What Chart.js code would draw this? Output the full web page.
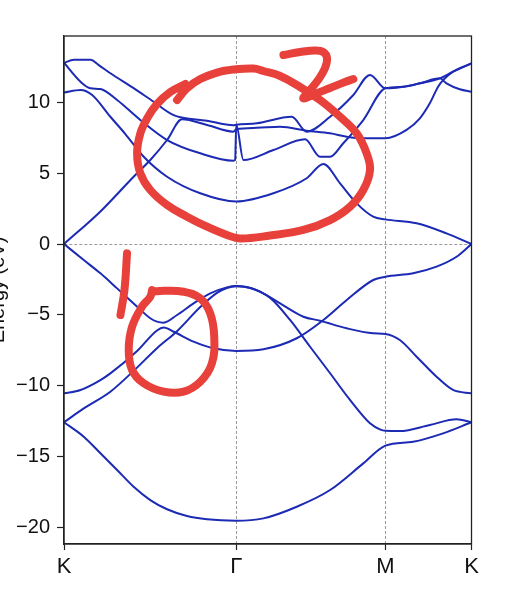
<!DOCTYPE html>
<html><head><meta charset="utf-8">
<script src="https://cdn.jsdelivr.net/npm/chart.js@4"></script>
<style>html,body{margin:0;padding:0;background:#fff;overflow:hidden}</style>
</head><body>
<canvas id="c" width="512" height="596"></canvas>
<script>
// k-path (high-symmetry points) and tick values
const kPathLabels = ['K', 'Γ', 'M', 'K'];
const kPathPos = [0, 1.3333, 2.4880, 3.1547];
const energyTicks = [-20, -15, -10, -5, 0, 5, 10];
const energyRange = [-21.17, 14.68];

// bands: [k, E (eV)]
const bandL1 = [[0,-12.58],[0.153,-13.6],[0.282,-14.77],[0.411,-15.95],[0.539,-17.13],[0.668,-18.07],[0.798,-18.72],[0.952,-19.2],[1.107,-19.43],[1.3333,-19.53],[1.544,-19.36],[1.802,-18.54],[2.06,-17.36],[2.317,-15.48],[2.488,-14.23],[2.703,-13.95],[2.935,-13.36],[3.1547,-12.58]];
const bandL2 = [[0,-12.58],[0.153,-11.6],[0.359,-10.42],[0.539,-8.95],[0.72,-7.35],[0.875,-6.15],[1.055,-4.45],[1.184,-3.45],[1.261,-3.1],[1.3333,-2.98],[1.441,-3.1],[1.596,-3.8],[1.75,-5.36],[1.905,-7.25],[2.06,-9.12],[2.214,-11.0],[2.369,-12.65],[2.45,-13.1],[2.488,-13.18],[2.6,-13.2],[2.832,-12.77],[3.039,-12.37],[3.1547,-12.58]];
const bandL3 = [[0,0],[0.153,-1.13],[0.282,-2.07],[0.411,-3.13],[0.539,-4.19],[0.668,-5.24],[0.72,-5.48],[0.771,-5.55],[0.875,-5.01],[1.003,-4.19],[1.132,-3.48],[1.261,-3.06],[1.3333,-2.96],[1.493,-3.25],[1.673,-4.19],[1.853,-5.13],[1.982,-5.41],[2.189,-5.95],[2.394,-6.3],[2.488,-6.35],[2.6,-6.77],[2.73,-7.95],[2.884,-9.36],[3.012,-10.3],[3.1547,-10.54]];
const bandL4 = [[0,-10.54],[0.128,-10.3],[0.282,-9.6],[0.359,-9.13],[0.566,-7.55],[0.72,-6.1],[0.771,-5.9],[0.849,-6.19],[1.003,-6.89],[1.158,-7.36],[1.3333,-7.55],[1.544,-7.43],[1.802,-6.65],[2.008,-5.36],[2.189,-3.95],[2.394,-2.54],[2.488,-2.31],[2.703,-2.07],[2.884,-1.6],[3.039,-0.9],[3.1547,0]];
const bandU1 = [[0,12.79],[0.076,13.0],[0.205,13.0],[0.269,12.63],[0.359,12.05],[0.539,11.0],[0.694,10.04],[0.849,9.1],[1.107,8.7],[1.312,8.38],[1.3333,8.42],[1.493,8.52],[1.763,8.98],[1.879,7.93],[2.06,8.98],[2.24,10.52],[2.369,11.93],[2.488,10.99],[2.627,11.1],[2.755,11.34],[2.91,11.69],[3.012,12.16],[3.1547,12.75]];
const bandU2 = [[0,12.79],[0.128,11.45],[0.205,10.99],[0.282,10.94],[0.411,10.16],[0.591,8.75],[0.798,7.34],[1.055,6.4],[1.312,5.88],[1.325,5.93],[1.3333,8.42],[1.389,5.93],[1.621,6.63],[1.866,7.39],[1.982,6.16],[2.06,6.16],[2.162,7.11],[2.317,8.75],[2.488,10.99],[2.627,11.1],[2.755,11.34],[2.91,11.69],[2.961,11.34],[3.064,10.92],[3.1547,10.75]];
const bandU3 = [[0,0],[0.282,2.3],[0.539,4.75],[0.668,5.93],[0.798,7.34],[0.913,8.8],[1.107,8.4],[1.312,7.93],[1.3333,8.1],[1.493,8.2],[1.673,8.28],[1.879,8.0],[2.06,7.81],[2.189,7.57],[2.317,7.46],[2.488,7.46],[2.652,8.05],[2.755,8.87],[2.832,9.93],[2.896,11.1],[2.935,11.57],[3.012,12.16],[3.1547,12.75]];
const bandU4 = [[0,10.69],[0.128,10.87],[0.218,10.52],[0.359,8.98],[0.475,7.76],[0.617,6.16],[0.798,4.75],[1.055,3.58],[1.3333,3.0],[1.621,3.58],[1.879,4.64],[2.008,5.65],[2.137,4.28],[2.266,2.87],[2.394,1.93],[2.488,1.74],[2.73,1.46],[2.961,0.75],[3.1547,0]];

// hand-drawn red annotations, traced in the same (k, E) coordinates
const markOneStroke = [[0.488,-0.66],[0.468,-3.25],[0.437,-5.01]];
const markOneCircle = [[0.682,-3.25],[0.668,-3.72],[0.604,-4.42],[0.527,-5.84],[0.501,-7.48],[0.527,-8.89],[0.617,-9.83],[0.771,-10.42],[0.926,-10.42],[1.055,-9.72],[1.145,-8.42],[1.163,-6.54],[1.132,-4.89],[1.055,-3.83],[0.926,-3.37],[0.771,-3.3],[0.682,-3.37]];
const markTwoStroke = [[1.699,13.34],[1.828,13.55],[1.944,13.66],[2.008,13.55],[2.036,13.13],[2.021,12.42],[1.967,11.57],[1.905,10.87],[1.853,10.28],[1.944,10.59],[2.06,11.01],[2.175,11.43],[2.24,11.64]];
const markTwoCircle = [[0.875,10.16],[0.952,10.99],[1.055,11.64],[1.184,12.1],[1.312,12.31],[1.467,12.39],[1.544,12.21],[1.673,11.86],[1.802,11.22],[1.982,10.16],[2.137,8.98],[2.266,7.81],[2.343,6.4],[2.369,5.22],[2.317,3.81],[2.214,2.63],[2.06,1.69],[1.853,0.99],[1.596,0.6],[1.364,0.39],[1.261,0.64],[1.107,1.22],[0.952,1.93],[0.798,2.75],[0.668,3.81],[0.591,4.99],[0.566,6.4],[0.591,7.81],[0.645,8.89],[0.72,9.88],[0.823,10.73],[0.939,11.29]];

const toXY = arr => arr.map(([x, y]) => ({x, y}));
const bands = [bandL1, bandL2, bandL3, bandL4, bandU1, bandU2, bandU3, bandU4];
const marks = [markOneStroke, markOneCircle, markTwoStroke, markTwoCircle];

const FONT = "'Liberation Sans', Arial, sans-serif";
const BLUE = '#1c2ab4';
const RED = '#e8413c';

const datasets = [];
marks.forEach(m => datasets.push({
  data: toXY(m), borderColor: RED, borderWidth: 8, pointRadius: 0,
  tension: 0.4, borderCapStyle: 'round', borderJoinStyle: 'round', fill: false, clip: false
}));
bands.forEach(b => datasets.push({
  data: toXY(b), borderColor: BLUE, borderWidth: 2, pointRadius: 0,
  cubicInterpolationMode: 'monotone', fill: false
}));

const framePlugin = {
  id: 'frame',
  afterDatasetsDraw(chart) {
    const {ctx, chartArea: a} = chart;
    ctx.save();
    ctx.strokeStyle = '#222';
    ctx.lineWidth = 1.3;
    ctx.strokeRect(a.left, a.top, a.right - a.left, a.bottom - a.top);
    ctx.restore();
  }
};

new Chart(document.getElementById('c'), {
  type: 'line',
  data: { datasets },
  options: {
    responsive: false,
    devicePixelRatio: 1,
    animation: false,
    events: [],
    layout: { padding: { top: 36, right: 40.5, left: 0, bottom: 0 } },
    plugins: { legend: { display: false }, tooltip: { enabled: false } },
    scales: {
      x: {
        type: 'linear',
        min: kPathPos[0], max: kPathPos[kPathPos.length - 1],
        afterBuildTicks: s => { s.ticks = kPathPos.map(v => ({value: v})); },
        afterFit: s => { s.height = 52; },
        ticks: {
          autoSkip: false, maxRotation: 0, padding: 4, color: '#111',
          font: { family: FONT, size: 22 },
          callback: (v, i) => kPathLabels[i]
        },
        grid: {
          color: c => (c.index === 1 || c.index === 2) ? 'rgba(120,120,120,0.75)' : 'rgba(0,0,0,0)',
          lineWidth: 1, tickColor: '#222', tickLength: 6, tickWidth: 1.2
        },
        border: { display: true, color: '#222', width: 1.3, dash: [3, 2] }
      },
      y: {
        type: 'linear',
        min: energyRange[0], max: energyRange[1],
        afterBuildTicks: s => { s.ticks = energyTicks.map(v => ({value: v})); },
        afterFit: s => { s.width = 64; },
        ticks: {
          padding: 7, color: '#111',
          font: { family: FONT, size: 20 },
          callback: v => v < 0 ? '\u2212' + Math.abs(v) : String(v)
        },
        grid: {
          color: c => (c.tick && c.tick.value === 0) ? 'rgba(120,120,120,0.75)' : 'rgba(0,0,0,0)',
          lineWidth: 1, tickColor: '#222', tickLength: 7, tickWidth: 1.2
        },
        border: { display: true, color: '#222', width: 1.3, dash: [3, 2] },
        title: {
          display: true, text: 'Energy (eV)', color: '#111',
          font: { family: FONT, size: 20 },
          padding: { top: -14, bottom: 0 }
        }
      }
    }
  },
  plugins: [framePlugin]
});
</script>
</body></html>
